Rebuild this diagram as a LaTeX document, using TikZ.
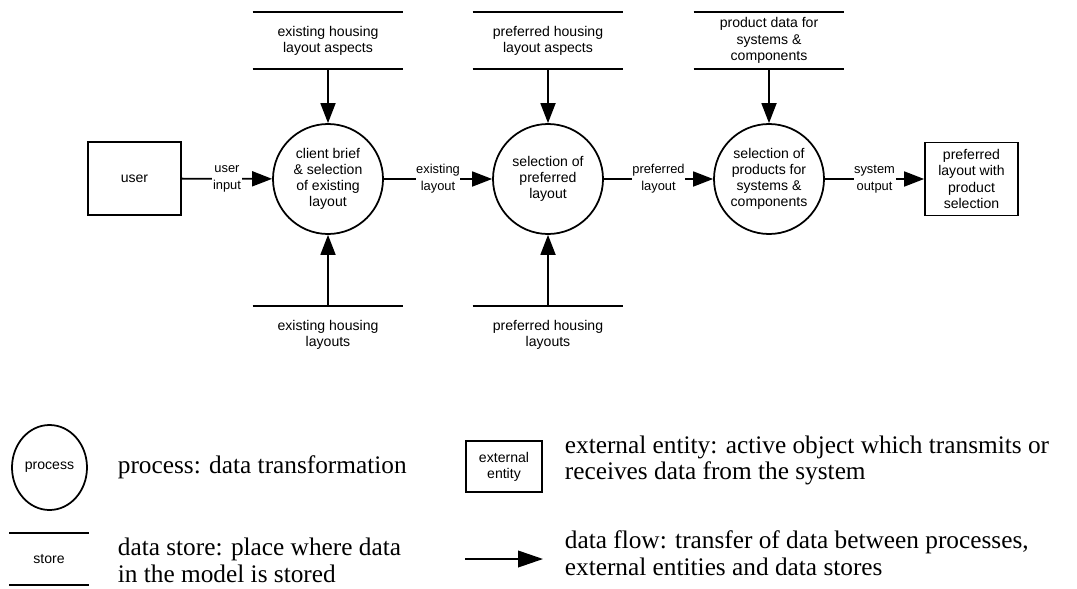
\documentclass[tikz,border=0pt]{standalone}
\usepackage{fontspec}
\setmainfont{Liberation Serif}
\newfontfamily\arialfont{Liberation Sans}
\usepackage{tikz}
\usetikzlibrary{positioning,arrows.meta,shapes.geometric}

\begin{document}
\begin{tikzpicture}[x=0.03cm, y=-0.03cm, line width=1.5pt,
  font=\arialfont\fontsize{12}{13.8}\selectfont,
  proc/.style={circle, draw, minimum size=3.3cm, align=center, inner sep=1pt},
  entity/.style={rectangle, draw, minimum width=2.79cm, minimum height=2.19cm, align=center},
  store/.style={minimum width=4.47cm, minimum height=1.65cm, align=center, inner sep=0pt},
  flow/.style={-{Triangle[length=0.6cm, width=0.45cm]}},
  flowlbl/.style={fill=white, inner sep=0.5pt, align=center, font=\arialfont\fontsize{11}{14.5}\selectfont},
  legtext/.style={anchor=west, inner sep=0pt, align=left, font=\fontsize{21.6}{22.8}\selectfont}]
\useasboundingbox (0,0) rectangle (1077,588);
% main chain
\node[entity] (user) at (134.5,178.5) {user};
\node[proc] (p1) at (328,179) {client brief\\\& selection\\of existing\\layout};
\node[proc] (p2) at (548,179) {selection of\\preferred\\layout};
\node[proc] (p3) at (769,179) {selection of\\products for\\systems \&\\components};
\node[entity] (out) at (971.5,179) {preferred\\layout with\\product\\selection};
% stores above and below
\node[store] (s1) at (328,40.5) {existing housing\\layout aspects};
\node[store] (s2) at (548,40.5) {preferred housing\\layout aspects};
\node[store] (s3) at (769,40.5) {product data for\\systems \&\\components};
\node[store] (b1) at (328,334.5) {existing housing\\layouts};
\node[store] (b2) at (548,334.5) {preferred housing\\layouts};
\foreach \s in {s1,s2,s3}
  \draw (\s.north west) -- (\s.north east) (\s.south west) -- (\s.south east);
\foreach \s in {b1,b2}
  \draw (\s.north west) -- (\s.north east);
% flows
\draw[flow] (user) -- node[flowlbl] {user\\input} (p1);
\draw[flow] (p1) -- node[flowlbl] {existing\\layout} (p2);
\draw[flow] (p2) -- node[flowlbl] {preferred\\layout} (p3);
\draw[flow] (p3) -- node[flowlbl] {system\\output} (out);
\foreach \k in {1,2,3}
  \draw[flow] (s\k.south) -- (p\k);
\foreach \k in {1,2}
  \draw[flow] (b\k.north) -- (p\k);
% legend
\node[ellipse, draw, minimum width=2.25cm, minimum height=2.55cm, inner sep=0pt] (lp) at (49.5,467.5) {process};
\node[legtext] (lptxt) at (117,467) {process: data transformation};
\node[entity, minimum width=2.28cm, minimum height=1.53cm] (le) at (504,466.5) {external\\entity};
\node[legtext] (letxt) at (564,460.5) {external entity: active object which transmits or\\receives data from the system};
\node[store, minimum width=2.34cm, minimum height=1.5cm] (ls) at (49,559) {store};
\draw (ls.north west) -- (ls.north east) (ls.south west) -- (ls.south east);
\node[legtext] (lstxt) at (117,560.5) {data store: place where data\\in the model is stored};
\coordinate (fa) at (465,559);
\coordinate (fb) at (543,559);
\draw[-{Triangle[length=0.75cm, width=0.5cm]}] (fa) -- (fb);
\node[legtext] (lftxt) at (564,553.5) {data flow: transfer of data between processes,\\external entities and data stores};
\end{tikzpicture}
\end{document}
